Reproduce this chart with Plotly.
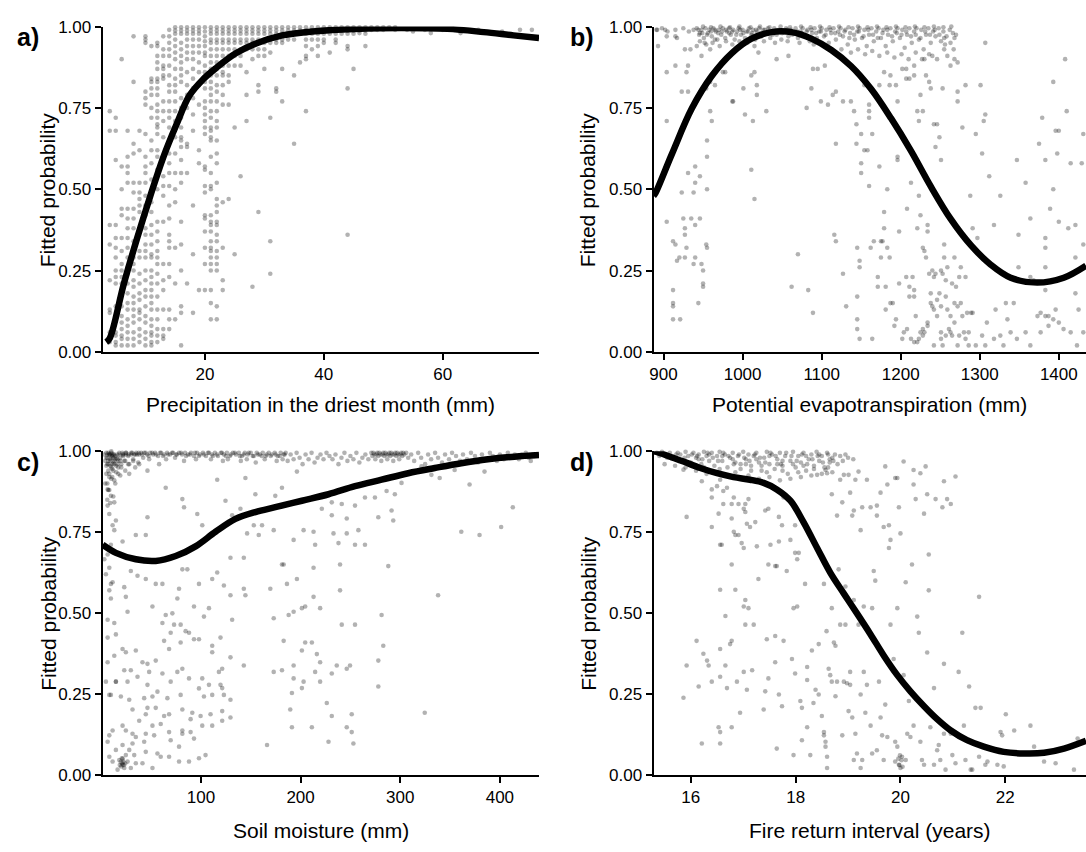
import plotly.graph_objects as go

FONT = "Liberation Sans, Arial, Helvetica, sans-serif"

# ---------------- Panel a: precipitation in the driest month (mm) ----------------
a_col_x = [4, 5, 6, 7, 8, 9, 10, 11, 12, 13, 14, 15, 16, 17, 18, 19, 20, 21, 22, 23, 24, 25,
           26, 27, 28, 29, 30, 31, 32, 33, 34, 35, 36, 37, 38, 39, 40, 41, 42, 43, 44, 45, 46,
           47, 48, 49, 50, 51, 52, 54, 55, 57, 58, 60, 62, 63, 66, 70, 73, 75]
a_col_y = [
    [0.74, 0.68, 0.39, 0.33, 0.22, 0.13, 0.12, 0.06, 0.04, 0.03],
    [0.72, 0.68, 0.59, 0.39, 0.35, 0.32, 0.29, 0.25, 0.23, 0.21, 0.14, 0.11, 0.06, 0.05, 0.03, 0.02],
    [0.90, 0.57, 0.50, 0.44, 0.42, 0.35, 0.31, 0.27, 0.25, 0.23, 0.21, 0.18, 0.14, 0.11, 0.09, 0.07, 0.05, 0.04, 0.02],
    [0.68, 0.60, 0.57, 0.55, 0.52, 0.44, 0.41, 0.38, 0.35, 0.32, 0.29, 0.26, 0.24, 0.21, 0.18, 0.15, 0.13, 0.10, 0.08, 0.06, 0.04, 0.02],
    [0.97, 0.83, 0.64, 0.61, 0.52, 0.49, 0.44, 0.41, 0.38, 0.34, 0.32, 0.29, 0.27, 0.25, 0.22, 0.20, 0.17, 0.15, 0.13, 0.11, 0.09, 0.06, 0.04, 0.02],
    [0.68, 0.62, 0.52, 0.49, 0.47, 0.45, 0.43, 0.31, 0.29, 0.24, 0.21, 0.18, 0.16, 0.13, 0.12, 0.10, 0.07, 0.05, 0.03],
    [0.97, 0.96, 0.95, 0.80, 0.78, 0.76, 0.67, 0.60, 0.57, 0.55, 0.52, 0.48, 0.45, 0.42, 0.38, 0.36, 0.33, 0.31, 0.29, 0.25, 0.22, 0.19, 0.17, 0.14, 0.11, 0.09, 0.06, 0.04, 0.02],
    [0.94, 0.84, 0.83, 0.81, 0.79, 0.75, 0.72, 0.65, 0.62, 0.58, 0.53, 0.49, 0.46, 0.43, 0.39, 0.36, 0.33, 0.30, 0.29, 0.25, 0.23, 0.21, 0.19, 0.17, 0.15, 0.13, 0.10, 0.08, 0.06, 0.05, 0.03, 0.02],
    [0.95, 0.94, 0.91, 0.89, 0.87, 0.84, 0.83, 0.81, 0.79, 0.76, 0.74, 0.72, 0.70, 0.69, 0.67, 0.62, 0.60, 0.56, 0.50, 0.40, 0.37, 0.34, 0.31, 0.29, 0.27, 0.24, 0.21, 0.17, 0.13, 0.10, 0.07, 0.05, 0.03],
    [0.97, 0.93, 0.91, 0.88, 0.87, 0.85, 0.84, 0.77, 0.74, 0.71, 0.66, 0.60, 0.54, 0.51, 0.48, 0.40, 0.27, 0.22, 0.19, 0.13, 0.07, 0.05, 0.04],
    [0.99, 0.97, 0.95, 0.93, 0.91, 0.88, 0.85, 0.82, 0.80, 0.77, 0.74, 0.72, 0.69, 0.65, 0.61, 0.58, 0.55, 0.51, 0.45, 0.41, 0.36, 0.34, 0.32, 0.27, 0.23, 0.13, 0.10, 0.07],
    [0.998, 0.988, 0.978, 0.96, 0.94, 0.92, 0.90, 0.87, 0.84, 0.82, 0.80, 0.77, 0.74, 0.71, 0.69, 0.66, 0.61, 0.55, 0.50, 0.46, 0.32, 0.21, 0.10],
    [0.998, 0.988, 0.978, 0.95, 0.93, 0.91, 0.89, 0.87, 0.85, 0.83, 0.78, 0.75, 0.72, 0.69, 0.66, 0.65, 0.63, 0.59, 0.55, 0.52, 0.40, 0.33, 0.25, 0.14, 0.12, 0.02],
    [0.998, 0.988, 0.978, 0.96, 0.94, 0.92, 0.90, 0.86, 0.82, 0.79, 0.75, 0.64, 0.63, 0.55, 0.21],
    [0.998, 0.988, 0.978, 0.96, 0.94, 0.92, 0.90, 0.87, 0.84, 0.81, 0.78, 0.73, 0.68, 0.45, 0.30, 0.12],
    [0.998, 0.988, 0.978, 0.96, 0.94, 0.92, 0.89, 0.86, 0.82, 0.76, 0.62, 0.58, 0.19],
    [0.998, 0.985, 0.97, 0.955, 0.94, 0.92, 0.91, 0.88, 0.86, 0.83, 0.81, 0.77, 0.75, 0.73, 0.71, 0.69, 0.67, 0.57, 0.56, 0.51, 0.49, 0.42, 0.41, 0.37, 0.32, 0.27, 0.19],
    [0.998, 0.988, 0.978, 0.96, 0.95, 0.93, 0.91, 0.89, 0.87, 0.85, 0.83, 0.81, 0.79, 0.77, 0.74, 0.72, 0.69, 0.68, 0.66, 0.65, 0.60, 0.55, 0.51, 0.50, 0.42, 0.40, 0.39, 0.37, 0.34, 0.32, 0.31, 0.29, 0.27, 0.25, 0.19, 0.15, 0.10],
    [0.998, 0.988, 0.978, 0.96, 0.95, 0.93, 0.91, 0.89, 0.87, 0.85, 0.82, 0.80, 0.77, 0.74, 0.71, 0.69, 0.65, 0.61, 0.58, 0.52, 0.47, 0.45, 0.43, 0.40, 0.39, 0.36, 0.34, 0.31, 0.29, 0.27, 0.25, 0.14, 0.10],
    [0.998, 0.988, 0.978, 0.96, 0.95, 0.93, 0.91, 0.88, 0.86, 0.85, 0.82, 0.79, 0.76, 0.46, 0.32, 0.22, 0.19],
    [0.998, 0.988, 0.978, 0.96, 0.95, 0.93, 0.91, 0.88, 0.85, 0.83, 0.76, 0.47],
    [0.998, 0.988, 0.978, 0.96, 0.95, 0.93, 0.91, 0.88, 0.69, 0.30],
    [0.998, 0.988, 0.978, 0.96, 0.95, 0.93, 0.91, 0.88, 0.54],
    [0.998, 0.988, 0.978, 0.96, 0.95, 0.93, 0.86, 0.79, 0.71],
    [0.998, 0.988, 0.978, 0.96, 0.95, 0.93, 0.90, 0.20],
    [0.998, 0.988, 0.978, 0.96, 0.95, 0.93, 0.91, 0.82, 0.80, 0.43],
    [0.998, 0.988, 0.978, 0.96, 0.95, 0.93, 0.91, 0.87],
    [0.998, 0.988, 0.978, 0.96, 0.95, 0.92, 0.72, 0.34, 0.24],
    [0.998, 0.988, 0.978, 0.96, 0.95, 0.81, 0.80],
    [0.998, 0.988, 0.978, 0.96, 0.95, 0.87, 0.77],
    [0.998, 0.988, 0.978, 0.96],
    [0.998, 0.988, 0.978, 0.96, 0.85, 0.64],
    [0.998, 0.988, 0.978, 0.89],
    [0.998, 0.988, 0.978, 0.96, 0.94, 0.91, 0.90, 0.74],
    [0.998, 0.988, 0.978, 0.96, 0.93],
    [0.998, 0.988, 0.978, 0.96, 0.94, 0.91],
    [0.998, 0.988, 0.978, 0.96, 0.95],
    [0.998, 0.988, 0.978, 0.92],
    [0.998, 0.988, 0.978, 0.96, 0.95],
    [0.998, 0.988, 0.978],
    [0.998, 0.988, 0.978, 0.94, 0.93, 0.81, 0.36],
    [0.998, 0.988, 0.978, 0.87],
    [0.998, 0.988, 0.98],
    [0.998, 0.988, 0.978, 0.94],
    [0.998, 0.99],
    [0.998, 0.99],
    [0.998, 0.99],
    [0.998],
    [0.998, 0.99],
    [0.99], [0.985], [0.99], [0.98], [0.99], [0.99], [0.98], [0.99], [0.985], [0.99], [0.99],
]
a_curve_x = [3.4, 4.0, 6.33, 8.56, 10.78, 13.0, 15.2, 17.4, 19.7, 21.9, 25.2, 28.6, 33.0, 38.6,
             45.2, 53.0, 60.8, 66.9, 71.9, 76.2]
a_curve_y = [0.03, 0.042, 0.207, 0.347, 0.477, 0.598, 0.698, 0.788, 0.838, 0.873, 0.918, 0.948,
             0.973, 0.986, 0.993, 0.996, 0.993, 0.983, 0.973, 0.965]

# ---------------- Panel b: potential evapotranspiration (mm) ----------------
b_pts = [
    (891, 0.99), (902, 0.99), (915, 0.97), (917, 0.965), (893, 0.94), (904, 0.86), (915, 0.88),
    (927, 0.93), (934, 0.93), (942, 0.94), (948, 0.91), (952, 0.95), (946, 0.98), (965, 0.96),
    (959, 0.93), (929, 0.86), (931, 0.88), (904, 0.97), (923, 0.80), (931, 0.80), (954, 0.81),
    (959, 0.83), (965, 0.82), (978, 0.86), (987, 0.77), (959, 0.74), (961, 0.71), (955, 0.65),
    (955, 0.60), (904, 0.71), (940, 0.57), (931, 0.55), (946, 0.54), (940, 0.52), (955, 0.50),
    (938, 0.49), (923, 0.49), (904, 0.40), (925, 0.41), (935, 0.41), (946, 0.41), (927, 0.38),
    (940, 0.39), (912, 0.34), (915, 0.33), (927, 0.36), (929, 0.32), (954, 0.33), (955, 0.32),
    (920, 0.29), (927, 0.29), (917, 0.28), (940, 0.29), (938, 0.27), (948, 0.27), (950, 0.25),
    (950, 0.21), (950, 0.20), (944, 0.15), (912, 0.19), (912, 0.15), (912, 0.14), (912, 0.10),
    (921, 0.10),
    (975, 0.86), (988, 0.77), (1001, 0.81), (1003, 0.73), (1011, 0.85), (1015, 0.86),
    (1018, 0.82), (1018, 0.79), (1013, 0.71), (1011, 0.56), (1015, 0.47), (1030, 0.74),
    (1020, 0.92), (1043, 0.90), (1058, 0.91), (1062, 0.20), (1070, 0.30), (1083, 0.19),
    (1081, 0.75), (1089, 0.12), (1087, 0.81), (1089, 0.87), (1095, 0.87), (1099, 0.77),
    (1104, 0.88), (1108, 0.76), (1114, 0.79), (1118, 0.80), (1118, 0.64), (1116, 0.36),
    (1118, 0.34), (1127, 0.77), (1127, 0.24), (1131, 0.14),
    (1137, 0.77), (1141, 0.74), (1144, 0.70), (1144, 0.64), (1145, 0.32), (1145, 0.17),
    (1145, 0.10), (1145, 0.07), (1148, 0.04), (1148, 0.28), (1148, 0.26), (1150, 0.67),
    (1150, 0.58), (1150, 0.55), (1154, 0.62), (1154, 0.82), (1158, 0.62), (1160, 0.76),
    (1160, 0.74), (1160, 0.72), (1160, 0.51), (1162, 0.32), (1164, 0.04), (1164, 0.67),
    (1166, 0.34), (1171, 0.23), (1171, 0.20), (1173, 0.57), (1175, 0.34), (1175, 0.29),
    (1179, 0.43), (1179, 0.38), (1177, 0.34), (1181, 0.20), (1181, 0.13), (1183, 0.50),
    (1183, 0.32), (1186, 0.29), (1187, 0.15), (1190, 0.15), (1192, 0.08), (1194, 0.10),
    (1196, 0.60), (1196, 0.59), (1198, 0.37), (1198, 0.21), (1202, 0.04), (1207, 0.23),
    (1208, 0.44), (1211, 0.20), (1211, 0.17), (1213, 0.52), (1215, 0.23), (1217, 0.17),
    (1217, 0.19), (1219, 0.11), (1221, 0.38), (1223, 0.04), (1225, 0.06), (1228, 0.07),
    (1223, 0.48), (1225, 0.42),
    (1173, 0.82), (1179, 0.86), (1186, 0.82), (1187, 0.85), (1194, 0.82), (1196, 0.77),
    (1202, 0.87), (1207, 0.87), (1207, 0.84), (1211, 0.84), (1217, 0.88), (1217, 0.85),
    (1221, 0.74), (1223, 0.71), (1225, 0.79), (1228, 0.74), (1230, 0.90), (1232, 0.85),
    (1236, 0.83), (1238, 0.81), (1240, 0.91), (1242, 0.70), (1244, 0.63), (1246, 0.70),
    (1249, 0.66), (1251, 0.59), (1253, 0.81), (1255, 0.93), (1259, 0.91), (1263, 0.88),
    (1268, 0.90), (1272, 0.89), (1272, 0.80), (1272, 0.77), (1278, 0.69), (1282, 0.82),
    (1228, 0.32), (1230, 0.31), (1232, 0.29), (1234, 0.39), (1234, 0.37), (1236, 0.24),
    (1238, 0.18), (1240, 0.25), (1240, 0.14), (1242, 0.13), (1244, 0.24), (1246, 0.11),
    (1249, 0.18), (1251, 0.25), (1251, 0.14), (1253, 0.24), (1255, 0.29), (1255, 0.33),
    (1257, 0.22), (1257, 0.17), (1259, 0.26), (1259, 0.13), (1261, 0.07), (1263, 0.06),
    (1265, 0.05), (1265, 0.21), (1268, 0.29), (1268, 0.15), (1270, 0.20), (1272, 0.14),
    (1272, 0.02), (1274, 0.23), (1276, 0.15), (1276, 0.26), (1278, 0.11), (1280, 0.06),
    (1282, 0.23), (1282, 0.04), (1284, 0.12), (1286, 0.06), (1289, 0.12), (1291, 0.12),
    (1251, 0.04), (1253, 0.02), (1257, 0.05), (1246, 0.16), (1242, 0.23), (1238, 0.15),
    (1234, 0.09), (1230, 0.06), (1228, 0.05), (1221, 0.03), (1213, 0.04), (1204, 0.06),
    (1208, 0.07), (1217, 0.03), (1234, 0.08), (1242, 0.02), (1251, 0.06), (1263, 0.11),
    (1268, 0.09), (1274, 0.05), (1286, 0.02), (1295, 0.02), (1303, 0.05), (1307, 0.02),
    (1309, 0.09), (1318, 0.04), (1320, 0.13), (1326, 0.05), (1330, 0.02), (1335, 0.10),
    (1339, 0.06), (1347, 0.04), (1358, 0.06), (1364, 0.02), (1373, 0.11), (1377, 0.06),
    (1383, 0.11), (1387, 0.08), (1393, 0.10), (1400, 0.09), (1406, 0.07), (1415, 0.06),
    (1423, 0.02), (1431, 0.06),
    (1301, 0.82), (1307, 0.95), (1307, 0.73), (1305, 0.71), (1303, 0.61), (1295, 0.67),
    (1291, 0.38), (1288, 0.48), (1297, 0.35), (1312, 0.54), (1318, 0.39), (1326, 0.48),
    (1333, 0.15), (1343, 0.15), (1347, 0.59), (1349, 0.36), (1349, 0.26), (1358, 0.52),
    (1364, 0.41), (1364, 0.23), (1375, 0.64), (1379, 0.72), (1383, 0.59), (1383, 0.35),
    (1383, 0.32), (1383, 0.26), (1383, 0.19), (1389, 0.44), (1393, 0.50), (1393, 0.83),
    (1396, 0.68), (1398, 0.61), (1400, 0.68), (1408, 0.90), (1410, 0.74), (1412, 0.38),
    (1415, 0.58), (1421, 0.39), (1421, 0.29), (1421, 0.18), (1425, 0.13), (1431, 0.67),
    (1431, 0.33), (1429, 0.58), (1400, 0.40), (1396, 0.13), (1387, 0.11), (1377, 0.12),
    (1368, 0.22),
]
b_band = [
    (892, 0.99), (898, 0.995), (905, 0.985), (915, 0.99), (925, 0.995), (932, 0.985), (938, 0.99),
    (942, 0.995), (945, 0.975), (948, 0.99), (951, 0.965), (953, 0.995), (956, 0.98), (958, 0.99),
    (961, 0.97), (963, 0.995), (966, 0.985), (968, 0.96), (970, 0.99), (973, 0.975), (975, 0.995),
    (978, 0.965), (980, 0.985), (983, 0.995), (985, 0.975), (988, 0.99), (990, 0.96), (993, 0.985),
    (995, 0.995), (998, 0.975), (1000, 0.99), (1003, 0.965), (1005, 0.985), (1008, 0.995),
    (1011, 0.975), (1013, 0.99), (1016, 0.96), (1018, 0.985), (1021, 0.995), (1024, 0.97),
    (1026, 0.99), (1029, 0.98), (1032, 0.995), (1035, 0.965), (1037, 0.985), (1040, 0.995),
    (1043, 0.975), (1046, 0.99), (1049, 0.96), (1052, 0.985), (1055, 0.995), (1058, 0.97),
    (1061, 0.99), (1064, 0.98), (1067, 0.995), (1070, 0.965), (1073, 0.985), (1076, 0.995),
    (1079, 0.97), (1082, 0.99), (1085, 0.955), (1088, 0.98), (1091, 0.995), (1094, 0.965),
    (1097, 0.985), (1100, 0.995), (1103, 0.97), (1106, 0.99), (1109, 0.95), (1112, 0.98),
    (1115, 0.995), (1118, 0.96), (1121, 0.985), (1124, 0.995), (1127, 0.97), (1130, 0.99),
    (1133, 0.945), (1136, 0.98), (1139, 0.995), (1142, 0.96), (1145, 0.985), (1148, 0.995),
    (1151, 0.965), (1154, 0.99), (1157, 0.94), (1160, 0.975), (1163, 0.995), (1166, 0.955),
    (1169, 0.985), (1172, 0.995), (1175, 0.965), (1178, 0.99), (1181, 0.94), (1184, 0.975),
    (1187, 0.995), (1190, 0.955), (1193, 0.985), (1196, 0.995), (1199, 0.965), (1202, 0.99),
    (1205, 0.935), (1208, 0.975), (1211, 0.995), (1214, 0.95), (1217, 0.985), (1220, 0.995),
    (1223, 0.96), (1226, 0.99), (1229, 0.93), (1232, 0.975), (1235, 0.995), (1238, 0.95),
    (1241, 0.985), (1244, 0.97), (1248, 0.995), (1251, 0.955), (1254, 0.985), (1258, 0.97),
    (1262, 0.99), (1266, 0.98), (1270, 0.975), (1268, 0.965),
    (946, 0.955), (954, 0.945), (962, 0.95), (971, 0.94), (979, 0.955), (987, 0.945), (996, 0.955),
    (1006, 0.95), (1015, 0.94), (1027, 0.955), (1041, 0.95), (1057, 0.955), (1072, 0.95),
    (1090, 0.945), (1105, 0.94), (1113, 0.925), (1125, 0.93), (1137, 0.92), (1146, 0.93),
    (1155, 0.915), (1164, 0.925), (1173, 0.91), (1183, 0.92), (1192, 0.905), (1201, 0.915),
    (1210, 0.90), (1219, 0.92), (1227, 0.90), (1236, 0.915), (1246, 0.90), (1256, 0.945),
    (1263, 0.95), (1267, 0.93),
    (950, 1.0), (960, 0.998), (972, 1.0), (984, 0.998), (996, 1.0), (1010, 0.998), (1022, 1.0),
    (1034, 0.998), (1048, 1.0), (1060, 0.998), (1074, 1.0), (1086, 0.998), (1098, 1.0),
    (1110, 0.998), (1122, 1.0), (1134, 0.998), (1146, 1.0), (1158, 0.998), (1170, 1.0),
    (1182, 0.998), (1194, 1.0), (1206, 0.998), (1218, 1.0), (1230, 0.998), (1242, 1.0),
    (1254, 0.998), (1264, 1.0),
    (944, 0.99), (949, 0.98), (955, 0.975), (960, 0.985), (965, 0.99), (969, 0.98), (974, 0.985),
    (979, 0.99), (983, 0.98), (987, 0.985), (992, 0.975), (997, 0.99), (1001, 0.98), (1007, 0.985),
    (1012, 0.98), (1017, 0.99), (1023, 0.98), (1028, 0.99), (1033, 0.985), (1038, 0.975),
    (1044, 0.985), (1050, 0.98), (1056, 0.99), (1063, 0.975), (1069, 0.985), (1075, 0.98),
    (1081, 0.985), (1087, 0.99), (1093, 0.98), (1099, 0.985), (1105, 0.975), (1111, 0.99),
    (1117, 0.98), (1123, 0.975), (1129, 0.985), (1135, 0.965), (1141, 0.975), (1147, 0.985),
    (1153, 0.97), (1159, 0.99), (1165, 0.975), (1171, 0.965), (1177, 0.98), (1183, 0.99),
    (1189, 0.97), (1195, 0.98), (1201, 0.975), (1207, 0.985), (1213, 0.97), (1219, 0.975),
    (1225, 0.965), (1231, 0.985), (1237, 0.975), (1243, 0.99), (1249, 0.975), (1255, 0.965),
]
b_curve_x = [887.4, 889.5, 910.5, 935.7, 960.9, 986.1, 1011.3, 1036.6, 1061.8, 1087.0, 1112.2,
             1137.4, 1162.6, 1187.8, 1213.0, 1238.2, 1263.4, 1288.7, 1313.9, 1339.1, 1372.7,
             1406.3, 1434.4]
b_curve_y = [0.48, 0.487, 0.608, 0.748, 0.848, 0.918, 0.963, 0.983, 0.983, 0.963, 0.928, 0.878,
             0.808, 0.718, 0.618, 0.508, 0.408, 0.328, 0.268, 0.228, 0.213, 0.228, 0.265]

# ---------------- Panel c: soil moisture (mm) ----------------
c_pts = [
    (5, 0.98), (6, 0.96), (7, 0.94), (8, 0.99), (9, 0.97), (10, 0.95), (11, 0.92), (12, 0.99),
    (13, 0.97), (14, 0.90), (5, 0.93), (6, 0.90), (7, 0.88), (8, 0.92), (9, 0.99), (10, 0.98),
    (11, 0.96), (12, 0.94), (13, 0.91), (15, 0.98), (16, 0.96), (17, 0.93), (18, 0.99),
    (19, 0.97), (20, 0.95), (22, 0.99), (23, 0.97), (24, 0.94), (25, 0.99), (27, 0.96),
    (28, 0.93), (30, 0.99), (32, 0.97), (34, 0.95), (36, 0.99), (38, 0.96), (6, 0.85), (9, 0.84),
    (12, 0.86), (8, 0.88), (4, 0.90), (10, 1.0), (11, 0.99), (12, 0.98), (7, 0.995), (6, 0.99),
    (46.3, 0.94), (64.6, 0.887), (81.3, 0.852), (46.3, 0.796), (34.6, 0.741), (44.6, 0.741),
    (21.3, 0.721), (11.3, 0.771), (8, 0.806), (6.3, 0.832), (13, 0.842), (83, 0.827),
    (96.3, 0.806), (101.3, 0.771), (116.3, 0.912), (124.6, 0.847), (131.3, 0.802),
    (139.6, 0.822), (144.6, 0.917), (146.3, 0.746), (153, 0.771), (161.3, 0.771), (158, 0.741),
    (173, 0.756), (154.6, 0.867), (174.6, 0.862), (181.3, 0.887), (193, 0.726), (203, 0.756),
    (213, 0.751), (214.6, 0.711), (203, 0.847), (196.3, 0.937), (221.3, 0.822), (231.3, 0.842),
    (231.3, 0.802), (233, 0.746), (238, 0.716), (246.3, 0.792), (246.3, 0.746), (254.6, 0.711),
    (258, 0.756), (264.6, 0.711), (241.3, 0.837), (264.6, 0.857), (274.6, 0.857), (278, 0.796),
    (286.3, 0.877), (291.3, 0.817), (293, 0.786), (294.6, 0.867), (254.6, 0.832),
    (361.3, 0.751), (379.6, 0.741), (369.6, 0.897), (401.3, 0.766), (413, 0.827),
    (384.6, 0.937), (354.6, 0.942), (331.3, 0.927), (339.6, 0.917), (321.3, 0.953),
    (301.3, 0.902), (309.6, 0.932),
    (129.6, 0.671), (143, 0.671), (81.3, 0.635), (86.3, 0.635), (116.3, 0.625), (111.3, 0.605),
    (98, 0.590), (123, 0.585), (54.6, 0.590), (61.3, 0.590), (44.6, 0.605), (36.3, 0.615),
    (29.6, 0.630), (78, 0.575), (76.3, 0.545), (93, 0.520), (108, 0.515), (51.3, 0.520),
    (26.3, 0.504), (24.6, 0.550), (23, 0.580), (129.6, 0.555), (143, 0.575), (144.6, 0.555),
    (169.6, 0.575), (183, 0.650), (181.3, 0.650), (186.3, 0.590), (196.3, 0.605), (213, 0.640),
    (239.6, 0.650), (239.6, 0.570), (213, 0.550), (219.6, 0.515), (201.3, 0.515), (204.6, 0.520),
    (193, 0.504), (188, 0.494), (173, 0.484), (131.3, 0.479), (103, 0.489), (71.3, 0.499),
    (64.6, 0.494), (61.3, 0.469), (73, 0.464), (79.6, 0.464), (84.6, 0.444), (88, 0.439),
    (69.6, 0.439), (63, 0.414), (68, 0.389), (79.6, 0.409), (93, 0.419), (98, 0.419),
    (111.3, 0.399), (119.6, 0.424), (111.3, 0.379), (129.6, 0.363), (121.3, 0.328), (118, 0.318),
    (143, 0.338), (173, 0.318), (181.3, 0.323), (183, 0.414), (204.6, 0.409), (211.3, 0.409),
    (201.3, 0.384), (216.3, 0.373), (219.6, 0.348), (193, 0.338), (193, 0.298), (203, 0.288),
    (214.6, 0.318), (219.6, 0.288), (231.3, 0.313), (236.3, 0.338), (246.3, 0.328),
    (249.6, 0.338), (241.3, 0.464), (254.6, 0.464), (278, 0.353), (278, 0.273), (281.3, 0.494),
    (283, 0.399), (288, 0.645), (338, 0.555), (324.6, 0.192), (251.3, 0.187), (246.3, 0.147),
    (251.3, 0.132), (253, 0.097), (228, 0.102), (231.3, 0.182), (226.3, 0.222), (201.3, 0.268),
    (191.3, 0.253), (189.6, 0.202), (191.3, 0.147), (211.3, 0.147), (166.3, 0.092),
    (6.3, 0.681), (8, 0.640), (9.6, 0.590), (8, 0.570), (9.6, 0.545), (6.3, 0.479), (13, 0.469),
    (14.6, 0.434), (6.3, 0.424), (13, 0.368), (6.3, 0.348), (14.6, 0.288), (9.6, 0.247),
    (4.6, 0.288), (3, 0.666), (4.6, 0.620), (11.3, 0.595), (9.6, 0.711), (13, 0.756),
    (14.6, 0.786), (6.3, 0.882), (9.6, 0.862),
    (21.3, 0.389), (24.6, 0.379), (34.6, 0.384), (41.3, 0.348), (46.3, 0.343), (54.6, 0.353),
    (23, 0.323), (29.6, 0.323), (36.3, 0.303), (48, 0.318), (61.3, 0.313), (69.6, 0.288),
    (76.3, 0.318), (81.3, 0.328), (14.6, 0.288), (26.3, 0.288), (46.3, 0.278), (56.3, 0.257),
    (43, 0.237), (51.3, 0.242), (66.3, 0.237), (79.6, 0.247), (8, 0.247), (19.6, 0.242),
    (28, 0.232), (31.3, 0.202), (46.3, 0.207), (54.6, 0.207), (81.3, 0.202), (68, 0.187),
    (63, 0.182), (44.6, 0.187), (38, 0.167), (59.6, 0.157), (51.3, 0.152), (21.3, 0.152),
    (11.3, 0.137), (8, 0.122), (6.3, 0.102), (24.6, 0.137), (31.3, 0.127), (34.6, 0.117),
    (44.6, 0.127), (53, 0.122), (68, 0.132), (81.3, 0.127), (69.6, 0.107), (78, 0.087),
    (43, 0.102), (31.3, 0.097), (21.3, 0.092), (14.6, 0.077), (24.6, 0.061), (28, 0.077),
    (33, 0.061), (44.6, 0.071), (59.6, 0.056), (56.3, 0.066), (68, 0.056), (51.3, 0.021),
    (41.3, 0.036), (34.6, 0.036), (16.3, 0.016), (21.3, 0.031), (22, 0.041), (20.6, 0.051),
    (23, 0.021), (18, 0.046), (26.3, 0.041), (29.6, 0.021), (11.3, 0.041), (8, 0.056),
    (78, 0.041), (88, 0.041), (98, 0.051), (104.6, 0.061), (89.6, 0.132), (93, 0.112),
    (91.3, 0.192), (99.6, 0.182), (101.3, 0.152), (111.3, 0.152), (109.6, 0.187),
    (121.3, 0.197), (121.3, 0.167), (129.6, 0.177), (111.3, 0.247), (103, 0.242), (98, 0.267),
    (108, 0.278), (119.6, 0.278), (121.3, 0.268), (129.6, 0.232), (123, 0.247), (88, 0.298),
    (101.3, 0.298), (89.6, 0.172), (81.3, 0.137), (21, 0.036), (20, 0.026), (22.5, 0.03),
    (19.5, 0.04), (21.5, 0.05), (18.5, 0.03), (24, 0.035),
]
c_band = [
    (3, 0.99), (4, 0.97), (5, 0.995), (6, 0.98), (7, 0.96), (8, 0.99), (9, 0.975), (10, 0.995),
    (11, 0.985), (12, 0.965), (13, 0.99), (14, 0.975), (15, 0.955), (16, 0.99), (17, 0.97),
    (18, 0.995), (19, 0.98), (20, 0.96), (21, 0.995), (22, 0.985), (24, 0.97), (25, 0.995),
    (27, 0.985), (28, 0.96), (30, 0.995), (32, 0.975), (33, 0.99), (35, 0.995), (37, 0.965),
    (38, 0.99), (40, 0.995), (42, 0.98), (43, 0.995), (46, 0.99), (48, 0.975), (49, 0.995),
    (52, 0.99), (54, 0.995), (57, 0.985), (58, 0.96), (60, 0.995), (63, 0.99), (65, 0.975),
    (66, 0.995), (69, 0.99), (72, 0.995), (74, 0.98), (75, 0.99), (78, 0.995), (81, 0.99),
    (83, 0.97), (84, 0.995), (87, 0.99), (90, 0.995), (93, 0.985), (95, 0.975), (96, 0.995),
    (99, 0.99), (102, 0.995), (105, 0.985), (108, 0.995), (110, 0.975), (111, 0.99),
    (114, 0.995), (117, 0.985), (120, 0.995), (122, 0.97), (123, 0.99), (126, 0.995),
    (127, 0.975), (129, 0.985), (132, 0.995), (135, 0.99), (138, 0.995), (140, 0.97),
    (141, 0.985), (144, 0.995), (146, 0.975), (147, 0.99), (150, 0.995), (153, 0.985),
    (155, 0.965), (156, 0.995), (159, 0.99), (162, 0.995), (164, 0.975), (165, 0.985),
    (168, 0.995), (171, 0.99), (174, 0.995), (176, 0.97), (177, 0.985), (180, 0.995),
    (182, 0.975), (183, 0.99), (185, 0.995), (187, 0.97), (190, 0.99), (193, 0.975),
    (196, 0.995), (199, 0.98), (202, 0.96), (205, 0.99), (208, 0.975), (211, 0.995),
    (214, 0.965), (217, 0.98), (220, 0.99), (223, 0.975), (226, 0.995), (229, 0.985),
    (232, 0.975), (235, 0.99), (238, 0.96), (241, 0.98), (244, 0.995), (247, 0.97),
    (250, 0.985), (253, 0.975), (256, 0.995), (259, 0.965), (262, 0.98), (265, 0.99),
    (268, 0.975), (271, 0.995), (272, 0.985), (274, 0.99), (275, 0.975), (277, 0.995),
    (278, 0.985), (280, 0.99), (281, 0.97), (283, 0.995), (284, 0.985), (286, 0.99),
    (287, 0.975), (289, 0.995), (290, 0.985), (292, 0.99), (293, 0.97), (295, 0.995),
    (296, 0.985), (298, 0.99), (299, 0.975), (301, 0.995), (302, 0.985), (304, 0.99),
    (306, 0.995), (308, 0.98), (311, 0.99), (314, 0.97), (318, 0.995), (321, 0.98), (325, 0.96),
    (328, 0.99), (331, 0.975), (335, 0.995), (338, 0.98), (342, 0.965), (345, 0.99),
    (349, 0.975), (352, 0.995), (356, 0.985), (360, 0.97), (363, 0.99), (367, 0.975),
    (371, 0.995), (375, 0.985), (378, 0.965), (382, 0.99), (386, 0.975), (390, 0.995),
    (393, 0.985), (397, 0.97), (400, 0.99), (404, 0.975), (408, 0.995), (411, 0.985),
    (415, 0.99), (419, 0.975), (422, 0.99), (426, 0.995), (429, 0.98), (431, 0.97), (433, 0.99),
    (435, 0.985),
    (21.5, 0.99), (24.5, 0.995), (27.5, 0.99), (31, 0.995), (34, 0.99), (37.5, 0.995),
    (41, 0.99), (44.5, 0.995), (47.5, 0.985), (51, 0.995), (55, 0.99), (59, 0.995), (62, 0.985),
    (67, 0.99), (71, 0.995), (76, 0.99), (80, 0.995), (85, 0.985), (89, 0.99), (94, 0.995),
    (98, 0.985), (103, 0.99), (107, 0.995), (112, 0.985), (116, 0.99), (121, 0.995),
    (125, 0.985), (130, 0.99), (134, 0.995), (139, 0.985), (143, 0.99), (148, 0.995),
    (152, 0.985), (157, 0.99), (161, 0.985), (166, 0.99), (170, 0.985), (175, 0.99),
    (179, 0.985), (184, 0.99), (273, 0.995), (276, 0.99), (279, 0.995), (282, 0.99),
    (285, 0.995), (288, 0.99), (291, 0.995), (294, 0.99), (297, 0.995), (300, 0.99),
    (303, 0.995), (7, 0.97), (9, 0.955), (11, 0.945), (13, 0.96), (15, 0.935), (17, 0.95),
    (19, 0.925), (8, 0.93), (10, 0.915), (5, 0.955), (14, 0.985), (16, 0.975),
]
c_curve_x = [1.3, 14.6, 34.6, 54.6, 74.6, 94.6, 114.6, 134.6, 154.6, 174.6, 201.3, 228.0,
             254.6, 281.3, 308.0, 334.6, 361.3, 388.0, 414.6, 439.3]
c_curve_y = [0.711, 0.686, 0.666, 0.661, 0.676, 0.706, 0.751, 0.791, 0.812, 0.827, 0.847, 0.867,
             0.892, 0.912, 0.932, 0.948, 0.963, 0.975, 0.983, 0.988]

# ---------------- Panel d: fire return interval (years) ----------------
d_pts = [
    (15.86, 0.943), (16.21, 0.907), (16.40, 0.882), (16.40, 0.857), (16.50, 0.892), (16.56, 0.912),
    (16.62, 0.877), (16.69, 0.887), (16.78, 0.837), (16.82, 0.857), (16.91, 0.837), (17.01, 0.822),
    (17.04, 0.837), (17.10, 0.852), (15.92, 0.797), (16.40, 0.766), (16.53, 0.807), (16.62, 0.837),
    (16.78, 0.792), (16.82, 0.751), (16.85, 0.741), (16.91, 0.741), (16.97, 0.716), (17.01, 0.701),
    (17.04, 0.812), (17.07, 0.776), (17.13, 0.766), (17.23, 0.781), (17.26, 0.706), (17.29, 0.605),
    (17.42, 0.817), (17.48, 0.822), (17.52, 0.711), (17.64, 0.645), (17.68, 0.797), (17.68, 0.721),
    (17.74, 0.771), (17.77, 0.857), (17.83, 0.630), (17.90, 0.726), (17.99, 0.771), (17.99, 0.686),
    (18.03, 0.666), (18.06, 0.686), (18.03, 0.520), (17.96, 0.515), (16.56, 0.711), (16.59, 0.711),
    (16.78, 0.650), (16.56, 0.572), (16.85, 0.572), (16.66, 0.491), (17.04, 0.540), (17.01, 0.520),
    (17.10, 0.515), (17.20, 0.464), (17.04, 0.464), (17.48, 0.650), (17.61, 0.645),
    (15.92, 0.338), (15.86, 0.238), (16.11, 0.414), (16.15, 0.273), (16.24, 0.374), (16.31, 0.353),
    (16.34, 0.338), (16.21, 0.097), (16.40, 0.288), (16.53, 0.147), (16.56, 0.132), (16.56, 0.097),
    (16.56, 0.389), (16.56, 0.303), (16.66, 0.338), (16.69, 0.268), (16.75, 0.404), (16.78, 0.414),
    (16.78, 0.147), (16.88, 0.288), (16.94, 0.192), (17.01, 0.318), (17.07, 0.263), (17.17, 0.323),
    (17.39, 0.202), (17.42, 0.258), (17.45, 0.419), (17.48, 0.298), (17.61, 0.429), (17.61, 0.348),
    (17.64, 0.081), (17.68, 0.248), (17.74, 0.212), (17.77, 0.414), (17.93, 0.358), (17.96, 0.061),
    (17.99, 0.313), (18.09, 0.228), (18.12, 0.207), (18.12, 0.107), (18.18, 0.590), (18.22, 0.293),
    (18.22, 0.333), (18.22, 0.147), (18.28, 0.061), (18.31, 0.384), (18.34, 0.222), (18.38, 0.263),
    (18.44, 0.404), (18.44, 0.248), (18.50, 0.182), (18.54, 0.590), (18.54, 0.122), (18.54, 0.132),
    (18.57, 0.102), (18.57, 0.087), (18.59, 0.444), (18.60, 0.056), (18.60, 0.021), (18.63, 0.328),
    (18.66, 0.308), (18.69, 0.288), (18.69, 0.515), (18.73, 0.409), (18.76, 0.399), (18.76, 0.243),
    (18.79, 0.288), (18.82, 0.635), (18.85, 0.464), (18.89, 0.122), (18.92, 0.288), (18.95, 0.582),
    (18.95, 0.464), (18.98, 0.283), (19.01, 0.197), (19.04, 0.318), (19.04, 0.278), (19.08, 0.177),
    (19.11, 0.540), (19.11, 0.046), (19.14, 0.127), (19.17, 0.066), (19.20, 0.464), (19.24, 0.248),
    (19.24, 0.021), (19.27, 0.046), (19.30, 0.318), (19.30, 0.520), (19.33, 0.192), (19.36, 0.278),
    (19.43, 0.152), (19.46, 0.066), (19.46, 0.515), (19.49, 0.630), (19.52, 0.600), (19.55, 0.076),
    (19.59, 0.288), (19.62, 0.177), (19.65, 0.122), (19.68, 0.046), (19.71, 0.217), (19.75, 0.117),
    (19.78, 0.771), (19.81, 0.464), (19.87, 0.358), (19.90, 0.102), (19.90, 0.041), (19.94, 0.515),
    (19.94, 0.087), (19.97, 0.031), (20.00, 0.021), (20.03, 0.056), (20.06, 0.308), (20.10, 0.046),
    (20.13, 0.127), (20.16, 0.228), (20.19, 0.117), (20.25, 0.152), (20.32, 0.489), (20.35, 0.439),
    (20.38, 0.102), (20.41, 0.046), (20.45, 0.031), (20.51, 0.378), (20.54, 0.570), (20.57, 0.147),
    (20.64, 0.268), (20.64, 0.031), (20.70, 0.076), (20.73, 0.092), (20.76, 0.046), (20.83, 0.343),
    (20.83, 0.127), (20.86, 0.016), (20.96, 0.127), (20.99, 0.061), (21.05, 0.036), (21.11, 0.318),
    (21.18, 0.439), (21.21, 0.152), (21.24, 0.046), (21.31, 0.273), (21.34, 0.016), (21.37, 0.016),
    (21.43, 0.207), (21.50, 0.550), (21.50, 0.056), (21.53, 0.207), (21.62, 0.031), (21.66, 0.041),
    (21.85, 0.031), (21.91, 0.132), (21.94, 0.122), (21.97, 0.026), (22.01, 0.187), (22.17, 0.137),
    (22.48, 0.152), (22.55, 0.087), (22.74, 0.041), (22.96, 0.036), (23.31, 0.016), (23.38, 0.112),
    (19.98, 0.03), (20.02, 0.045), (19.96, 0.05), (20.04, 0.025), (19.99, 0.06),
    (18.41, 0.927), (18.57, 0.942), (18.60, 0.932), (18.69, 0.867), (18.79, 0.801), (18.85, 0.912),
    (18.89, 0.842), (18.92, 0.927), (19.01, 0.927), (19.04, 0.872), (19.08, 0.801), (19.11, 0.817),
    (19.14, 0.912), (19.20, 0.937), (19.24, 0.756), (19.27, 0.827), (19.36, 0.912), (19.43, 0.827),
    (19.55, 0.832), (19.55, 0.801), (19.62, 0.872), (19.68, 0.766), (19.71, 0.953), (19.75, 0.897),
    (19.78, 0.701), (19.81, 0.726), (19.90, 0.917), (19.94, 0.917), (19.97, 0.827), (20.00, 0.746),
    (20.06, 0.968), (20.10, 0.595), (20.22, 0.650), (20.25, 0.942), (20.25, 0.897), (20.29, 0.852),
    (20.38, 0.932), (20.45, 0.807), (20.48, 0.953), (20.51, 0.867), (20.54, 0.681), (20.67, 0.852),
    (20.80, 0.827), (20.83, 0.907), (20.89, 0.852), (20.96, 0.837), (21.05, 0.922),
]
d_band = [
    (15.35, 0.995), (15.4, 0.985), (15.45, 0.998), (15.5, 0.99), (15.55, 0.98), (15.6, 0.995),
    (15.65, 0.985), (15.7, 0.975), (15.75, 0.995), (15.8, 0.99), (15.85, 0.97), (15.9, 0.998),
    (15.95, 0.985), (16.0, 0.965), (16.05, 0.995), (16.1, 0.98), (16.15, 0.99), (16.2, 0.96),
    (16.25, 0.998), (16.3, 0.985), (16.35, 0.97), (16.4, 0.995), (16.45, 0.955), (16.5, 0.985),
    (16.55, 0.998), (16.6, 0.97), (16.65, 0.99), (16.7, 0.95), (16.75, 0.98), (16.8, 0.995),
    (16.85, 0.965), (16.9, 0.985), (16.95, 0.945), (17.0, 0.998), (17.05, 0.975), (17.1, 0.99),
    (17.15, 0.955), (17.2, 0.985), (17.25, 0.995), (17.3, 0.965), (17.35, 0.94), (17.4, 0.98),
    (17.45, 0.998), (17.5, 0.96), (17.55, 0.99), (17.6, 0.945), (17.65, 0.975), (17.7, 0.995),
    (17.75, 0.955), (17.8, 0.985), (17.85, 0.93), (17.9, 0.97), (17.95, 0.998), (18.0, 0.95),
    (18.05, 0.985), (18.1, 0.965), (18.15, 0.995), (18.2, 0.94), (18.25, 0.975), (18.3, 0.99),
    (18.35, 0.955), (18.4, 0.998), (18.45, 0.97), (18.5, 0.985), (18.55, 0.95), (18.6, 0.995),
    (18.65, 0.965), (18.7, 0.98), (18.75, 0.99), (18.8, 0.96), (18.85, 0.985), (18.9, 0.97),
    (15.5, 0.96), (15.7, 0.955), (15.9, 0.95), (16.1, 0.94), (16.3, 0.93), (16.5, 0.935),
    (16.7, 0.925), (16.9, 0.92), (17.1, 0.925), (17.3, 0.915), (17.5, 0.92), (17.7, 0.91),
    (17.9, 0.915), (18.1, 0.92), (18.3, 0.925), (18.5, 0.93), (18.7, 0.935),
    (16.15, 0.975), (16.35, 0.99), (16.6, 0.985), (16.8, 0.975), (17.05, 0.96), (17.25, 0.975),
    (17.5, 0.985), (17.75, 0.97), (17.95, 0.96), (18.2, 0.985), (18.45, 0.99), (18.65, 0.975),
    (18.95, 0.99), (19.0, 0.98), (19.1, 0.975),
    (15.42, 0.99), (15.58, 0.985), (15.72, 0.99), (15.88, 0.98), (16.02, 0.99), (16.12, 0.985),
    (16.22, 0.975), (16.32, 0.995), (16.42, 0.98), (16.52, 0.97), (16.62, 0.995), (16.72, 0.985),
    (16.82, 0.96), (16.92, 0.99), (17.02, 0.98), (17.12, 0.97), (17.22, 0.99), (17.32, 0.98),
    (17.42, 0.965), (17.52, 0.995), (17.62, 0.985), (17.72, 0.96), (17.82, 0.995), (17.92, 0.985),
    (18.02, 0.97), (18.12, 0.99), (18.22, 0.96), (18.32, 0.975), (18.42, 0.985), (18.52, 0.965),
    (18.62, 0.99), (18.72, 0.97), (16.25, 0.95), (16.55, 0.945), (16.85, 0.935), (17.15, 0.94),
    (17.45, 0.935), (17.75, 0.94), (18.05, 0.935), (18.35, 0.945), (18.62, 0.95), (16.95, 0.96),
    (17.35, 0.955), (17.65, 0.96), (18.15, 0.955),
]
d_curve_x = [15.29, 15.35, 15.605, 15.86, 16.18, 16.5, 16.815, 17.13, 17.39, 17.64, 17.9, 18.15,
             18.41, 18.66, 18.92, 19.17, 19.43, 19.68, 19.94, 20.19, 20.45, 20.7, 20.96, 21.27,
             21.59, 21.97, 22.36, 22.74, 23.12, 23.54]
d_curve_y = [1.0, 0.998, 0.983, 0.968, 0.948, 0.932, 0.920, 0.912, 0.902, 0.882, 0.847, 0.781,
             0.701, 0.625, 0.560, 0.499, 0.434, 0.369, 0.308, 0.258, 0.212, 0.172, 0.137, 0.107,
             0.087, 0.071, 0.066, 0.068, 0.081, 0.105]

x_titles = ["Precipitation in the driest month (mm)", "Potential evapotranspiration (mm)",
            "Soil moisture (mm)", "Fire return interval (years)"]
panel_tags = ["a)", "b)", "c)", "d)"]
x_ranges = [[2.8, 76.2], [887.4, 1434.4], [1.3, 439.3], [15.29, 23.54]]
x_ticks = [[20, 40, 60], [900, 1000, 1100, 1200, 1300, 1400], [100, 200, 300, 400],
           [16, 18, 20, 22]]
y_ticks = [0, 0.25, 0.5, 0.75, 1.0]
y_ticktext = ["0.00", "0.25", "0.50", "0.75", "1.00"]

# ---------------- assemble ----------------
a_x, a_y = [], []
for cx, ys in zip(a_col_x, a_col_y):
    for yv in ys:
        a_x.append(cx)
        a_y.append(yv)

def unzip(pts):
    return [p[0] for p in pts], [p[1] for p in pts]

b_x, b_y = unzip(b_pts + b_band)
c_x, c_y = unzip(c_pts + c_band)
d_x, d_y = unzip(d_pts + d_band)

scatter_sets = [(a_x, a_y), (b_x, b_y), (c_x, c_y), (d_x, d_y)]
curve_sets = [(a_curve_x, a_curve_y), (b_curve_x, b_curve_y), (c_curve_x, c_curve_y),
              (d_curve_x, d_curve_y)]

W, H = 1086, 852
left_dom = [99 / W, 537 / W]
right_dom = [652 / W, 1.0]
top_dom = [1 - 350.7 / H, 1 - 18 / H]
bot_dom = [1 - 783.3 / H, 1 - 452.3 / H]
x_doms = [left_dom, right_dom, left_dom, right_dom]
y_doms = [top_dom, top_dom, bot_dom, bot_dom]

fig = go.Figure()
for i in range(4):
    sfx = "" if i == 0 else str(i + 1)
    px, py = scatter_sets[i]
    fig.add_trace(go.Scatter(
        x=px, y=py, mode="markers", xaxis="x" + sfx, yaxis="y" + sfx,
        marker=dict(size=4.6, color="rgba(0,0,0,0.3)", line=dict(width=0)),
        cliponaxis=False, hoverinfo="skip", showlegend=False))
    cx, cy = curve_sets[i]
    fig.add_trace(go.Scatter(
        x=cx, y=cy, mode="lines", xaxis="x" + sfx, yaxis="y" + sfx,
        line=dict(color="black", width=6.5, shape="spline", smoothing=1.0),
        hoverinfo="skip", showlegend=False))

axis_common = dict(showline=True, linewidth=2, linecolor="black", ticks="outside", ticklen=6,
                   tickwidth=1.6, tickcolor="black", showgrid=False, zeroline=False,
                   tickfont=dict(family=FONT, size=17, color="black"), fixedrange=True)
layout = dict(
    width=W, height=H, margin=dict(l=0, r=0, t=0, b=0),
    paper_bgcolor="white", plot_bgcolor="white", showlegend=False,
    font=dict(family=FONT, color="black"),
)
annotations = []
for i in range(4):
    sfx = "" if i == 0 else str(i + 1)
    layout["xaxis" + sfx] = dict(axis_common, domain=x_doms[i], range=x_ranges[i],
                                 tickvals=x_ticks[i], anchor="y" + sfx)
    layout["yaxis" + sfx] = dict(axis_common, domain=y_doms[i], range=[0, 1],
                                 tickvals=y_ticks, ticktext=y_ticktext, anchor="x" + sfx)
    xc = (x_doms[i][0] * W + (x_doms[i][1] * W)) / 2 / W
    is_top = i < 2
    annotations.append(dict(text=x_titles[i], xref="paper", yref="paper", x=xc,
                            y=1 - (405 if is_top else 840) / H, xanchor="center",
                            yanchor="middle", showarrow=False,
                            font=dict(family=FONT, size=21, color="black")))
    ytx = (44 if i % 2 == 0 else 586) / W
    ytc = (1 - 184.5 / H) if is_top else (1 - 617.8 / H)
    annotations.append(dict(text="Fitted probability", xref="paper", yref="paper", x=ytx,
                            y=ytc, xanchor="center", yanchor="middle", textangle=-90,
                            showarrow=False, font=dict(family=FONT, size=21, color="black")))
    tx = (24 if i % 2 == 0 else 580) / W
    ty = 1 - (29 if is_top else 463) / H
    annotations.append(dict(text="<b>" + panel_tags[i] + "</b>", xref="paper", yref="paper",
                            x=tx, y=ty, xanchor="center", yanchor="middle", showarrow=False,
                            font=dict(family=FONT, size=25, color="black")))
layout["annotations"] = annotations
fig.update_layout(**layout)
fig.write_html("out.html")
